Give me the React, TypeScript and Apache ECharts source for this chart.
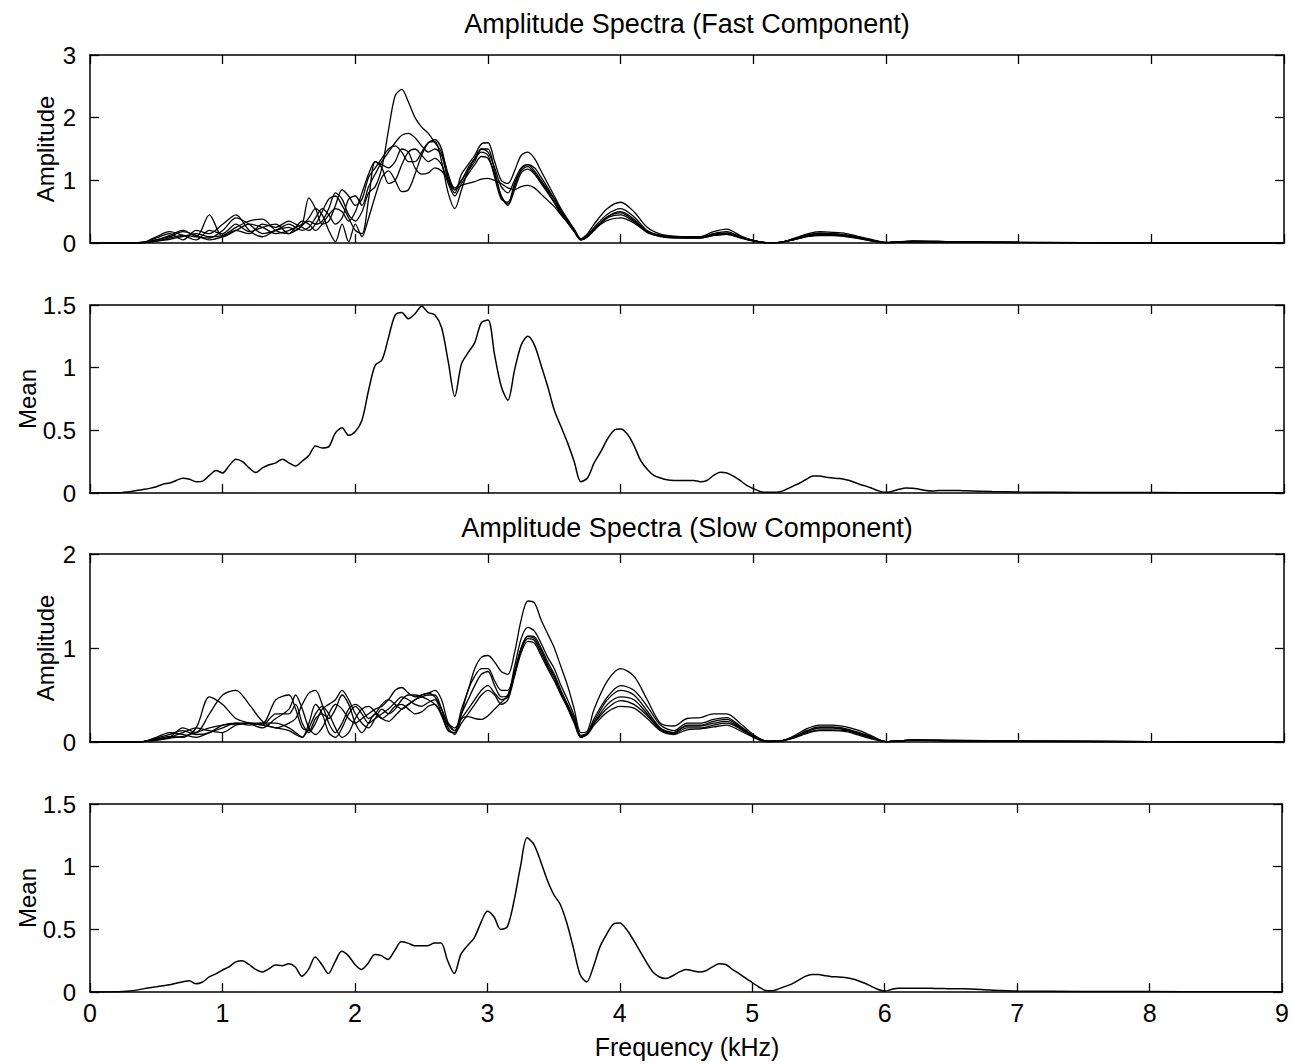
import React, { useEffect, useRef } from "react";
import * as echarts from "echarts";

// ---------- DATA ----------
// Frequency grid (kHz) for the mean curves
const MEAN_FREQ = [
  0, 0.05, 0.1, 0.15, 0.2, 0.25, 0.3, 0.35, 0.4, 0.45,
  0.5, 0.55, 0.6, 0.65, 0.7, 0.75, 0.8, 0.85, 0.9, 0.95,
  1.0, 1.05, 1.1, 1.15, 1.2, 1.25, 1.3, 1.35, 1.4, 1.45,
  1.5, 1.55, 1.6, 1.65, 1.7, 1.75, 1.8, 1.85, 1.9, 1.95,
  2.0, 2.05, 2.1, 2.15, 2.2, 2.25, 2.3, 2.35, 2.4, 2.45,
  2.5, 2.55, 2.6, 2.65, 2.7, 2.75, 2.8, 2.85, 2.9, 2.95,
  3.0, 3.05, 3.1, 3.15, 3.2, 3.25, 3.3, 3.35, 3.4, 3.45,
  3.5, 3.55, 3.6, 3.65, 3.7, 3.75, 3.8, 3.85, 3.9, 3.95,
  4.0, 4.05, 4.1, 4.15, 4.2, 4.25, 4.3, 4.35, 4.4, 4.45,
  4.5, 4.55, 4.6, 4.65, 4.7, 4.75, 4.8, 4.85, 4.9, 4.95,
  5.0, 5.05, 5.1, 5.15, 5.2, 5.25, 5.3, 5.35, 5.4, 5.45,
  5.5, 5.55, 5.6, 5.65, 5.7, 5.75, 5.8, 5.85, 5.9, 5.95,
  6.0, 6.05, 6.1, 6.15, 6.2, 6.25, 6.3, 6.35, 6.4, 6.45,
  6.5, 6.55, 6.6,
  6.8, 7.0, 7.5, 8.0, 8.5, 9.0,
];

const meanFast = [
  0, 0, 0, 0, 0.002, 0.005, 0.01, 0.02, 0.028, 0.037,
  0.05, 0.07, 0.08, 0.1, 0.118, 0.11, 0.09, 0.095, 0.14, 0.18,
  0.16, 0.22, 0.27, 0.25, 0.2, 0.163, 0.2, 0.225, 0.24, 0.27,
  0.24, 0.215, 0.255, 0.3, 0.375, 0.36, 0.37, 0.48, 0.52, 0.46,
  0.49, 0.58, 0.82, 1.02, 1.06, 1.24, 1.42, 1.44, 1.39, 1.43,
  1.49, 1.44, 1.42, 1.32, 1.05, 0.77, 1.03, 1.12, 1.2, 1.36,
  1.38, 1.1, 0.85, 0.74, 0.98, 1.18, 1.25, 1.18, 1.02, 0.85,
  0.66, 0.53, 0.4, 0.25, 0.09, 0.12, 0.24, 0.33, 0.43, 0.5,
  0.51, 0.47, 0.38, 0.26, 0.19, 0.14, 0.12, 0.105, 0.1, 0.1,
  0.1, 0.1, 0.09, 0.1, 0.14, 0.165, 0.16, 0.135, 0.1, 0.06,
  0.035, 0.012, 0.005, 0.005, 0.01, 0.03, 0.055, 0.08, 0.11, 0.135,
  0.135, 0.125, 0.12, 0.115, 0.105, 0.09, 0.07, 0.055, 0.035, 0.015,
  0.005, 0.015, 0.03, 0.04, 0.038, 0.03, 0.02, 0.016, 0.02, 0.02,
  0.02, 0.02, 0.018,
  0.012, 0.008, 0.004, 0.003, 0.002, 0.002,
];

const meanSlow = [
  0, 0, 0, 0, 0.002, 0.004, 0.008, 0.015, 0.025, 0.034,
  0.042, 0.05, 0.058, 0.07, 0.082, 0.09, 0.065, 0.08, 0.12, 0.145,
  0.175, 0.2, 0.24, 0.25, 0.22, 0.18, 0.16, 0.185, 0.215, 0.21,
  0.225, 0.2, 0.126, 0.18, 0.28, 0.22, 0.147, 0.24, 0.325, 0.29,
  0.22, 0.18, 0.23, 0.3, 0.29, 0.26, 0.33, 0.4, 0.39, 0.37,
  0.37, 0.37, 0.39, 0.39, 0.25, 0.147, 0.3, 0.37, 0.43, 0.55,
  0.645, 0.6, 0.5, 0.52, 0.72, 1.0, 1.23, 1.18, 1.05, 0.9,
  0.78, 0.7, 0.55, 0.35, 0.14, 0.08, 0.2, 0.36, 0.46, 0.54,
  0.55, 0.5, 0.42, 0.33, 0.24, 0.16, 0.12, 0.108, 0.13, 0.16,
  0.18, 0.17, 0.16, 0.17, 0.2, 0.225, 0.22, 0.18, 0.147, 0.11,
  0.075, 0.04, 0.012, 0.01, 0.025, 0.045, 0.065, 0.095, 0.125, 0.14,
  0.14, 0.13, 0.122, 0.12, 0.115, 0.105, 0.09, 0.07, 0.045, 0.02,
  0.008, 0.02, 0.03, 0.03, 0.03, 0.03, 0.03, 0.03, 0.028, 0.027,
  0.026, 0.025, 0.025,
  0.015, 0.008, 0.004, 0.003, 0.002, 0.002,
];

// Frequency grid (kHz) for the individual spectra
const TRACE_FREQ = [
  0, 0.2, 0.4,
  0.5, 0.6, 0.7, 0.8, 0.9, 1.0, 1.1, 1.2, 1.3, 1.4, 1.5,
  1.55, 1.6, 1.65, 1.7, 1.75, 1.8, 1.85, 1.9, 1.95, 2.0,
  2.05, 2.1, 2.15, 2.2, 2.25, 2.3, 2.35, 2.4, 2.45, 2.5,
  2.55, 2.6, 2.65, 2.7, 2.75, 2.8, 2.85, 2.9, 2.95, 3.0,
  3.05, 3.1, 3.15, 3.2, 3.25, 3.3, 3.35, 3.4, 3.45, 3.5,
  3.55, 3.6, 3.65, 3.7, 3.75, 3.8,
  3.9, 4.0, 4.1, 4.2, 4.3, 4.4, 4.5, 4.6, 4.7, 4.8, 4.9,
  5.0, 5.1, 5.2, 5.3, 5.4, 5.5, 5.6, 5.7, 5.8, 5.9, 6.0,
  6.2, 6.5, 7.0, 8.0, 9.0,
];

const fast1 = [
  0, 0, 0.01,
  0.03, 0.08, 0.12, 0.1, 0.45, 0.1, 0.2, 0.3, 0.25, 0.15, 0.2,
  0.25, 0.3, 0.35, 0.3, 0.35, 0.55, 0.8, 0.7, 0.45, 0.35,
  0.5, 0.8, 0.9, 1.2, 1.8, 2.35, 2.45, 2.25, 2.0, 1.85,
  1.75, 1.6, 1.45, 1.1, 0.85, 1.0, 1.15, 1.3, 1.5, 1.45,
  1.2, 0.9, 0.8, 1.0, 1.2, 1.25, 1.15, 1.0, 0.85, 0.7,
  0.5, 0.35, 0.2, 0.06, 0.1, 0.22,
  0.42, 0.5, 0.38, 0.18, 0.12, 0.1, 0.1, 0.09, 0.14, 0.16, 0.1,
  0.04, 0.005, 0.01, 0.06, 0.12, 0.15, 0.14, 0.12, 0.08, 0.04, 0.005,
  0.03, 0.02, 0.01, 0.003, 0.002,
];
const fast2 = [
  0, 0, 0.01,
  0.05, 0.12, 0.2, 0.1, 0.08, 0.2, 0.4, 0.3, 0.15, 0.2, 0.3,
  0.25, 0.2, 0.25, 0.4, 0.55, 0.45, 0.3, 0.4, 0.7, 0.75,
  0.6, 0.9, 1.1, 1.3, 1.45, 1.6, 1.72, 1.75, 1.68, 1.55,
  1.45, 1.5, 1.4, 1.0, 0.8, 1.1, 1.25, 1.4, 1.58, 1.6,
  1.3, 1.0, 0.95, 1.15, 1.4, 1.45, 1.35, 1.15, 0.95, 0.75,
  0.55, 0.38, 0.22, 0.07, 0.15, 0.3,
  0.55, 0.65, 0.5, 0.25, 0.14, 0.11, 0.1, 0.1, 0.18, 0.22, 0.12,
  0.04, 0.005, 0.01, 0.07, 0.14, 0.18, 0.17, 0.15, 0.1, 0.05, 0.01,
  0.03, 0.02, 0.01, 0.003, 0.002,
];
const fast3 = [
  0, 0, 0.005,
  0.03, 0.06, 0.1, 0.15, 0.1, 0.12, 0.25, 0.35, 0.38, 0.2, 0.15,
  0.25, 0.35, 0.3, 0.2, 0.3, 0.45, 0.55, 0.5, 0.35, 0.5,
  0.8, 1.1, 1.3, 1.25, 1.2, 1.3, 1.5, 1.45, 1.2, 1.1,
  1.12, 1.2, 1.15, 1.0, 0.85, 0.92, 0.95, 0.98, 1.02, 1.03,
  1.0, 0.95, 0.88, 0.85, 0.9, 0.92, 0.88, 0.78, 0.68, 0.58,
  0.45, 0.33, 0.2, 0.06, 0.12, 0.22,
  0.36, 0.4, 0.32, 0.17, 0.1, 0.08, 0.08, 0.08, 0.12, 0.14, 0.09,
  0.035, 0.005, 0.01, 0.05, 0.1, 0.12, 0.12, 0.1, 0.07, 0.03, 0.005,
  0.02, 0.015, 0.008, 0.003, 0.002,
];
const fast4 = [
  0, 0, 0.008,
  0.08, 0.15, 0.05, 0.2, 0.15, 0.3, 0.45, 0.2, 0.1, 0.2, 0.25,
  0.2, 0.3, 0.72, 0.55, 0.3, 0.35, 0.6, 0.85, 0.75, 0.6,
  0.7, 1.05, 1.2, 1.35, 1.5, 1.55, 1.45, 1.3, 1.3, 1.45,
  1.6, 1.62, 1.3, 0.8, 0.55, 0.85, 1.15, 1.35, 1.5, 1.5,
  1.15, 0.75, 0.62, 0.9, 1.18, 1.25, 1.2, 1.05, 0.88, 0.7,
  0.52, 0.36, 0.2, 0.05, 0.12, 0.25,
  0.46, 0.55, 0.42, 0.2, 0.12, 0.1, 0.1, 0.09, 0.15, 0.18, 0.1,
  0.04, 0.005, 0.01, 0.06, 0.12, 0.16, 0.15, 0.13, 0.09, 0.04, 0.005,
  0.03, 0.02, 0.01, 0.003, 0.002,
];
const fast5 = [
  0, 0, 0.01,
  0.1, 0.18, 0.12, 0.05, 0.2, 0.15, 0.3, 0.18, 0.25, 0.3, 0.15,
  0.2, 0.28, 0.4, 0.55, 0.45, 0.2, 0.02, 0.3, 0.02, 0.3,
  0.1, 0.4, 0.75, 1.05, 1.15, 1.0, 0.82, 0.85, 1.1, 1.4,
  1.6, 1.65, 1.5, 1.05, 0.88, 1.0, 1.2, 1.35, 1.45, 1.4,
  1.05, 0.7, 0.65, 0.95, 1.15, 1.22, 1.12, 0.98, 0.82, 0.65,
  0.48, 0.33, 0.18, 0.05, 0.1, 0.22,
  0.42, 0.48, 0.36, 0.18, 0.11, 0.09, 0.09, 0.09, 0.13, 0.15, 0.09,
  0.035, 0.005, 0.01, 0.05, 0.11, 0.14, 0.14, 0.12, 0.08, 0.04, 0.005,
  0.025, 0.02, 0.01, 0.003, 0.002,
];
const fast6 = [
  0, 0, 0.005,
  0.05, 0.1, 0.18, 0.12, 0.05, 0.1, 0.2, 0.15, 0.3, 0.25, 0.35,
  0.3, 0.25, 0.2, 0.3, 0.5, 0.7, 0.75, 0.6, 0.4, 0.2,
  0.15, 0.7, 1.3, 1.2, 0.95, 1.0, 1.25, 1.45, 1.5, 1.4,
  1.3, 1.35, 1.25, 0.95, 0.75, 0.95, 1.1, 1.25, 1.38, 1.35,
  1.1, 0.75, 0.6, 0.85, 1.12, 1.18, 1.1, 0.95, 0.8, 0.64,
  0.46, 0.32, 0.18, 0.05, 0.1, 0.2,
  0.4, 0.45, 0.34, 0.17, 0.11, 0.09, 0.08, 0.08, 0.12, 0.14, 0.08,
  0.03, 0.005, 0.01, 0.05, 0.1, 0.13, 0.13, 0.11, 0.07, 0.03, 0.005,
  0.02, 0.015, 0.008, 0.003, 0.002,
];

const slow1 = [
  0, 0, 0.005,
  0.03, 0.06, 0.05, 0.15, 0.48, 0.4, 0.25, 0.2, 0.15, 0.25, 0.35,
  0.5, 0.35, 0.15, 0.08, 0.15, 0.3, 0.4, 0.35, 0.25, 0.2,
  0.25, 0.3, 0.35, 0.38, 0.45, 0.55, 0.58, 0.52, 0.48, 0.5,
  0.52, 0.55, 0.45, 0.2, 0.12, 0.35, 0.55, 0.78, 0.9, 0.92,
  0.85, 0.75, 0.72, 0.95, 1.3, 1.5, 1.48, 1.3, 1.15, 1.0,
  0.8, 0.6, 0.35, 0.1, 0.12, 0.35,
  0.65, 0.78, 0.7, 0.45, 0.2, 0.17, 0.25, 0.26, 0.3, 0.3, 0.2,
  0.08, 0.01, 0.01, 0.06, 0.14, 0.18, 0.18, 0.16, 0.12, 0.06, 0.005,
  0.02, 0.02, 0.01, 0.003, 0.002,
];
const slow2 = [
  0, 0, 0.005,
  0.02, 0.05, 0.15, 0.1, 0.3, 0.5, 0.55, 0.4, 0.22, 0.15, 0.2,
  0.25, 0.4, 0.52, 0.55, 0.4, 0.2, 0.1, 0.2, 0.35, 0.4,
  0.35, 0.25, 0.3, 0.4, 0.45, 0.4, 0.35, 0.4, 0.45, 0.48,
  0.5, 0.5, 0.35, 0.15, 0.08, 0.3, 0.55, 0.7, 0.78, 0.78,
  0.65, 0.55, 0.55, 0.8, 1.1, 1.22, 1.18, 1.05, 0.9, 0.78,
  0.6, 0.45, 0.28, 0.07, 0.1, 0.25,
  0.48, 0.6, 0.55, 0.38, 0.18, 0.12, 0.2, 0.2, 0.24, 0.26, 0.17,
  0.07, 0.01, 0.01, 0.05, 0.12, 0.16, 0.16, 0.14, 0.1, 0.05, 0.005,
  0.02, 0.015, 0.01, 0.003, 0.002,
];
const slow3 = [
  0, 0, 0.005,
  0.05, 0.1, 0.08, 0.05, 0.1, 0.15, 0.2, 0.2, 0.18, 0.3, 0.3,
  0.4, 0.2, 0.1, 0.2, 0.35, 0.4, 0.45, 0.55, 0.45, 0.3,
  0.2, 0.15, 0.25, 0.35, 0.3, 0.35, 0.45, 0.5, 0.5, 0.48,
  0.45, 0.4, 0.3, 0.18, 0.12, 0.3, 0.45, 0.6, 0.72, 0.75,
  0.6, 0.48, 0.5, 0.75, 1.0, 1.13, 1.12, 1.0, 0.85, 0.72,
  0.55, 0.4, 0.25, 0.06, 0.1, 0.22,
  0.45, 0.55, 0.5, 0.33, 0.15, 0.1, 0.17, 0.17, 0.2, 0.22, 0.15,
  0.06, 0.01, 0.01, 0.05, 0.11, 0.15, 0.15, 0.13, 0.09, 0.04, 0.005,
  0.02, 0.015, 0.01, 0.003, 0.002,
];
const slow4 = [
  0, 0, 0.005,
  0.04, 0.08, 0.12, 0.08, 0.1, 0.18, 0.2, 0.18, 0.2, 0.2, 0.15,
  0.1, 0.05, 0.2, 0.4, 0.3, 0.1, 0.05, 0.15, 0.3, 0.38,
  0.3, 0.2, 0.25, 0.3, 0.35, 0.42, 0.48, 0.45, 0.4, 0.38,
  0.42, 0.45, 0.3, 0.12, 0.1, 0.25, 0.35, 0.45, 0.55, 0.6,
  0.52, 0.45, 0.48, 0.72, 0.98, 1.1, 1.08, 0.95, 0.8, 0.68,
  0.52, 0.38, 0.22, 0.05, 0.09, 0.2,
  0.36, 0.44, 0.4, 0.28, 0.13, 0.09, 0.15, 0.15, 0.18, 0.2, 0.14,
  0.05, 0.005, 0.01, 0.04, 0.1, 0.13, 0.13, 0.12, 0.08, 0.04, 0.005,
  0.02, 0.015, 0.008, 0.003, 0.002,
];
const slow5 = [
  0, 0, 0.005,
  0.03, 0.05, 0.1, 0.15, 0.12, 0.1, 0.18, 0.2, 0.2, 0.45, 0.5,
  0.35, 0.15, 0.12, 0.25, 0.3, 0.25, 0.35, 0.5, 0.4, 0.2,
  0.1, 0.2, 0.3, 0.25, 0.3, 0.38, 0.4, 0.35, 0.3, 0.32,
  0.38, 0.4, 0.28, 0.12, 0.1, 0.2, 0.3, 0.4, 0.5, 0.55,
  0.5, 0.4, 0.45, 0.7, 0.95, 1.07, 1.05, 0.92, 0.78, 0.65,
  0.5, 0.36, 0.2, 0.05, 0.08, 0.18,
  0.32, 0.38, 0.36, 0.25, 0.12, 0.08, 0.13, 0.14, 0.16, 0.18, 0.12,
  0.05, 0.005, 0.01, 0.04, 0.09, 0.12, 0.12, 0.11, 0.07, 0.03, 0.005,
  0.02, 0.01, 0.008, 0.003, 0.002,
];
const slow6 = [
  0, 0, 0.005,
  0.02, 0.04, 0.06, 0.1, 0.15, 0.18, 0.19, 0.2, 0.18, 0.15, 0.12,
  0.08, 0.05, 0.15, 0.3, 0.38, 0.3, 0.15, 0.05, 0.1, 0.25,
  0.35, 0.38, 0.32, 0.25, 0.22, 0.28, 0.35, 0.4, 0.45, 0.5,
  0.52, 0.48, 0.35, 0.2, 0.15, 0.25, 0.27, 0.25, 0.24, 0.28,
  0.35, 0.42, 0.5, 0.72, 1.0, 1.12, 1.1, 0.98, 0.82, 0.7,
  0.52, 0.37, 0.22, 0.05, 0.09, 0.2,
  0.4, 0.48, 0.45, 0.3, 0.14, 0.1, 0.18, 0.18, 0.22, 0.24, 0.16,
  0.06, 0.01, 0.01, 0.05, 0.11, 0.15, 0.15, 0.13, 0.09, 0.04, 0.005,
  0.02, 0.015, 0.01, 0.003, 0.002,
];

const fastTraces = [fast1, fast2, fast3, fast4, fast5, fast6];
const slowTraces = [slow1, slow2, slow3, slow4, slow5, slow6];

const X_TICKS = [0, 1, 2, 3, 4, 5, 6, 7, 8, 9];
const Y_MAX = [3, 1.5, 2, 1.5];
const Y_STEP = [1, 0.5, 1, 0.5];
const Y_NAMES = ["Amplitude", "Mean", "Amplitude", "Mean"];
const TITLES = ["Amplitude Spectra (Fast Component)", "Amplitude Spectra (Slow Component)"];
const X_NAME = "Frequency (kHz)";

// ---------- LAYOUT ----------
const FONT = '"Liberation Sans", Arial, Helvetica, sans-serif';
const LEFT = 90;
const PW = 1194;
const PH = 188;
const TOPS = [55, 305, 554, 804];
const YNAME_X = [45, 27, 45, 27];

const pairs = (xs: number[], ys: number[]) => {
  const n = Math.min(xs.length, ys.length);
  const out: number[][] = [];
  for (let i = 0; i < n; i++) out.push([xs[i], ys[i]]);
  return out;
};

function buildOption() {
  const axisLine = { show: true, onZero: false, lineStyle: { color: "#000", width: 1.5 } };
  const axisTick = { show: true, inside: true, length: 9, lineStyle: { color: "#000", width: 1.3 } };
  const grid = TOPS.map((t) => ({ left: LEFT, top: t, width: PW, height: PH, containLabel: false }));
  const xAxis: any[] = [];
  const yAxis: any[] = [];
  TOPS.forEach((_, k) => {
    const xBase = {
      type: "value",
      gridIndex: k,
      min: X_TICKS[0],
      max: X_TICKS[X_TICKS.length - 1],
      interval: 1,
      axisLine,
      axisTick,
      splitLine: { show: false },
    };
    xAxis.push({
      ...xBase,
      position: "bottom",
      axisLabel: {
        show: k === 3,
        fontSize: 25,
        color: "#000",
        fontFamily: FONT,
        margin: 8,
      },
    });
    xAxis.push({ ...xBase, position: "top", axisLabel: { show: false } });
    const yBase = {
      type: "value",
      gridIndex: k,
      min: 0,
      max: Y_MAX[k],
      interval: Y_STEP[k],
      axisLine,
      axisTick,
      splitLine: { show: false },
    };
    yAxis.push({
      ...yBase,
      position: "left",
      axisLabel: { fontSize: 24, color: "#000", fontFamily: FONT, margin: 14 },
    });
    yAxis.push({ ...yBase, position: "right", axisLabel: { show: false } });
  });

  const lineBase = {
    type: "line",
    showSymbol: false,
    symbol: "none",
    smooth: 0.3,
    clip: true,
    silent: true,
  };
  const series: any[] = [];
  fastTraces.forEach((tr, i) => {
    series.push({
      ...lineBase,
      name: "fast" + (i + 1),
      xAxisIndex: 0,
      yAxisIndex: 0,
      data: pairs(TRACE_FREQ, tr),
      lineStyle: { color: "#000", width: 1.3 },
    });
  });
  series.push({
    ...lineBase,
    name: "meanFast",
    xAxisIndex: 2,
    yAxisIndex: 2,
    data: pairs(MEAN_FREQ, meanFast),
    lineStyle: { color: "#000", width: 1.5 },
  });
  slowTraces.forEach((tr, i) => {
    series.push({
      ...lineBase,
      name: "slow" + (i + 1),
      xAxisIndex: 4,
      yAxisIndex: 4,
      data: pairs(TRACE_FREQ, tr),
      lineStyle: { color: "#000", width: 1.3 },
    });
  });
  series.push({
    ...lineBase,
    name: "meanSlow",
    xAxisIndex: 6,
    yAxisIndex: 6,
    data: pairs(MEAN_FREQ, meanSlow),
    lineStyle: { color: "#000", width: 1.5 },
  });

  const centerX = LEFT + PW / 2;
  const graphic: any[] = [
    {
      type: "text",
      x: centerX,
      y: 24,
      style: { text: TITLES[0], fontSize: 27, fontFamily: FONT, fill: "#000", textAlign: "center", textVerticalAlign: "middle" },
    },
    {
      type: "text",
      x: centerX,
      y: 528,
      style: { text: TITLES[1], fontSize: 27, fontFamily: FONT, fill: "#000", textAlign: "center", textVerticalAlign: "middle" },
    },
    {
      type: "text",
      x: centerX,
      y: 1047,
      style: { text: X_NAME, fontSize: 25, fontFamily: FONT, fill: "#000", textAlign: "center", textVerticalAlign: "middle" },
    },
  ];
  Y_NAMES.forEach((nm, k) => {
    graphic.push({
      type: "text",
      x: YNAME_X[k],
      y: TOPS[k] + PH / 2,
      rotation: Math.PI / 2,
      style: { text: nm, fontSize: 24, fontFamily: FONT, fill: "#000", textAlign: "center", textVerticalAlign: "middle" },
    });
  });

  return {
    animation: false,
    backgroundColor: "#fff",
    grid,
    xAxis,
    yAxis,
    series,
    graphic,
  };
}

export default function App() {
  const ref = useRef<HTMLDivElement>(null);
  useEffect(() => {
    if (!ref.current) return;
    const chart = echarts.init(ref.current, undefined, { renderer: "svg" });
    chart.setOption(buildOption() as any);
    return () => chart.dispose();
  }, []);
  return (
    <div
      ref={ref}
      style={{ position: "absolute", left: 0, top: 0, width: 1292, height: 1064, background: "#fff" }}
    />
  );
}
